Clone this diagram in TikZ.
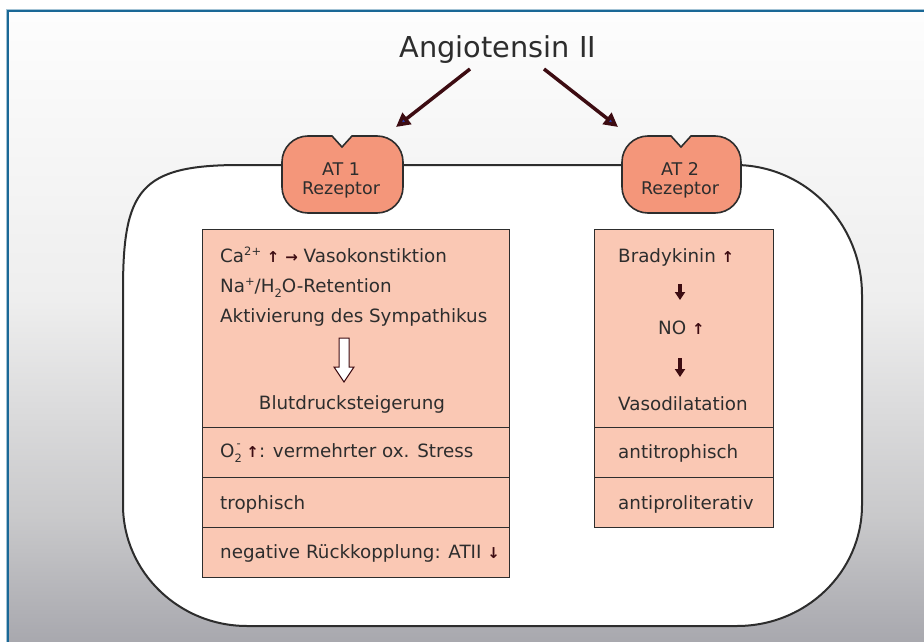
\documentclass[tikz,border=0pt]{standalone}
\usepackage{fontspec}
\setmainfont{DejaVu Sans}
\usetikzlibrary{arrows.meta}
\definecolor{boxfill}{RGB}{250,200,180}
\definecolor{recfill}{RGB}{244,150,122}
\definecolor{edgec}{RGB}{45,45,45}
\definecolor{maroonc}{RGB}{61,12,18}
\definecolor{tipblue}{RGB}{40,60,170}
\definecolor{frameblue}{RGB}{26,104,150}
\definecolor{txtc}{RGB}{45,45,45}
\newcommand{\myup}{{\color{maroonc}\bfseries\fontsize{15}{15}\selectfont ↑}}
\newcommand{\mydown}{{\color{maroonc}\bfseries\fontsize{15}{15}\selectfont ↓}}
\newcommand{\myright}{{\color{maroonc}\bfseries\fontsize{15}{15}\selectfont →}}
\newcommand{\supx}[1]{\raisebox{0.33em}{\fontsize{11.5}{11.5}\selectfont #1}}
\newcommand{\subx}[1]{\raisebox{-0.3em}{\fontsize{11.5}{11.5}\selectfont #1}}
\begin{document}
\begin{tikzpicture}[x=1pt,y=1pt,
  txt/.style={font=\fontsize{18.3}{22}\selectfont, text=txtc, inner sep=0pt, anchor=base west},
  rectxt/.style={font=\fontsize{17.5}{21}\selectfont, text=txtc, inner sep=0pt, anchor=base},
  boxnode/.style={draw=edgec, fill=boxfill, line width=1.3pt, inner sep=0pt, anchor=north west},
  receptor/.style={draw=edgec, fill=recfill, line width=1.6pt},
  bigarrow/.style={draw=maroonc, line width=3.5pt, -{Triangle[length=14pt,width=14pt,fill=tipblue]}},
  smallarrow/.style={draw=maroonc, line width=3.2pt, -{Triangle[length=8pt,width=10pt]}}]
\useasboundingbox (0,0) rectangle (924,-642);
% background
\fill[white] (0,0) rectangle (924,-642);
\shade[top color={rgb,255:red,253;green,253;blue,253}, bottom color={rgb,255:red,238;green,238;blue,238}] (9,-12) rectangle (924,-301);
\shade[top color={rgb,255:red,238;green,238;blue,238}, bottom color={rgb,255:red,200;green,200;blue,202}] (9,-300) rectangle (924,-521);
\shade[top color={rgb,255:red,200;green,200;blue,202}, bottom color={rgb,255:red,168;green,168;blue,174}] (9,-520) rectangle (924,-642);
% frame
\draw[frameblue!40!white, line width=1pt] (6.4,-642) -- (6.4,-9.4) -- (924,-9.4);
\draw[frameblue, line width=2.2pt] (8.2,-642) -- (8.2,-11.2) -- (924,-11.2);
% cell
\draw[fill=white, draw=edgec, line width=2pt] (240,-165) -- (735,-165)
  .. controls (805,-165) and (862,-223) .. (862,-295) -- (862,-505)
  .. controls (862,-572) and (806,-626) .. (737,-626) -- (247,-626)
  .. controls (179,-626) and (123,-572) .. (123,-505) -- (123,-290)
  .. controls (123,-190) and (140,-165) .. (240,-165) -- cycle;
% title
\node[font=\fontsize{28.8}{34}\selectfont, text=txtc, inner sep=0pt, anchor=base] (title) at (498,-58) {Angiotensin II};
\coordinate (s1) at (470,-69);
\coordinate (e1) at (396,-127);
\coordinate (s2) at (544,-69);
\coordinate (e2) at (618,-127);
\draw[bigarrow] (s1) -- (e1);
\draw[bigarrow] (s2) -- (e2);
% receptors
\draw[receptor] (332,-136) -- (342,-147) -- (352,-136) -- (377,-136)
  arc[start angle=90,end angle=0,radius=26] -- (403,-187)
  arc[start angle=0,end angle=-90,radius=26] -- (308,-213)
  arc[start angle=270,end angle=180,radius=26] -- (282,-162)
  arc[start angle=180,end angle=90,radius=26] -- cycle;
\draw[receptor] (671,-136) -- (681,-147) -- (691,-136) -- (715,-136)
  arc[start angle=90,end angle=0,radius=26] -- (741,-187)
  arc[start angle=0,end angle=-90,radius=26] -- (648,-213)
  arc[start angle=270,end angle=180,radius=26] -- (622,-162)
  arc[start angle=180,end angle=90,radius=26] -- cycle;
\node[rectxt] (r1a) at (341,-175) {AT 1};
\node[rectxt] (r1b) at (341,-194) {Rezeptor};
\node[rectxt] (r2a) at (680,-175) {AT 2};
\node[rectxt] (r2b) at (680,-194) {Rezeptor};
% left boxes
\node[boxnode, minimum width=307pt, minimum height=198pt] (lb1) at (202,-229) {};
\node[boxnode, minimum width=307pt, minimum height=50pt] (lb2) at (202,-427) {};
\node[boxnode, minimum width=307pt, minimum height=50pt] (lb3) at (202,-477) {};
\node[boxnode, minimum width=307pt, minimum height=50pt] (lb4) at (202,-527) {};
% right boxes
\node[boxnode, minimum width=179pt, minimum height=198pt] (rb1) at (594,-229) {};
\node[boxnode, minimum width=179pt, minimum height=50pt] (rb2) at (594,-427) {};
\node[boxnode, minimum width=179pt, minimum height=50pt] (rb3) at (594,-477) {};
% left texts
\node[txt] (l1) at (220,-262) {Ca\supx{2+} \myup\ \myright\ Vasokonstiktion};
\node[txt] (l2) at (220,-292) {Na\supx{+}/H\subx{2}O-Retention};
\node[txt] (l3) at (220,-322) {Aktivierung des Sympathikus};
\draw[draw=maroonc, fill=white, line width=1pt] (339,-338) -- (349,-338) -- (349,-367) -- (354,-367) -- (344,-382) -- (334,-367) -- (339,-367) -- cycle;
\node[txt, anchor=base] (l4) at (352,-409) {Blutdrucksteigerung};
\node[txt] (l5) at (220,-457) {O\rlap{\subx{2}}\raisebox{0.2em}{\supx{\,-}} \myup: vermehrter ox. Stress};
\node[txt] (l6) at (220,-509) {trophisch};
\node[txt] (l7) at (220,-558) {negative Rückkopplung: ATII \mydown};
% right texts
\node[txt] (q1) at (618,-262) {Bradykinin \myup};
\coordinate (d1s) at (680,-284);
\coordinate (d1e) at (680,-300);
\draw[smallarrow] (d1s) -- (d1e);
\node[txt] (q2) at (658,-334) {NO \myup};
\coordinate (d2s) at (680,-358);
\coordinate (d2e) at (680,-377);
\draw[smallarrow] (d2s) -- (d2e);
\node[txt] (q3) at (618,-410) {Vasodilatation};
\node[txt] (q4) at (618,-458) {antitrophisch};
\node[txt] (q5) at (618,-509) {antiproliterativ};
\end{tikzpicture}
\end{document}
